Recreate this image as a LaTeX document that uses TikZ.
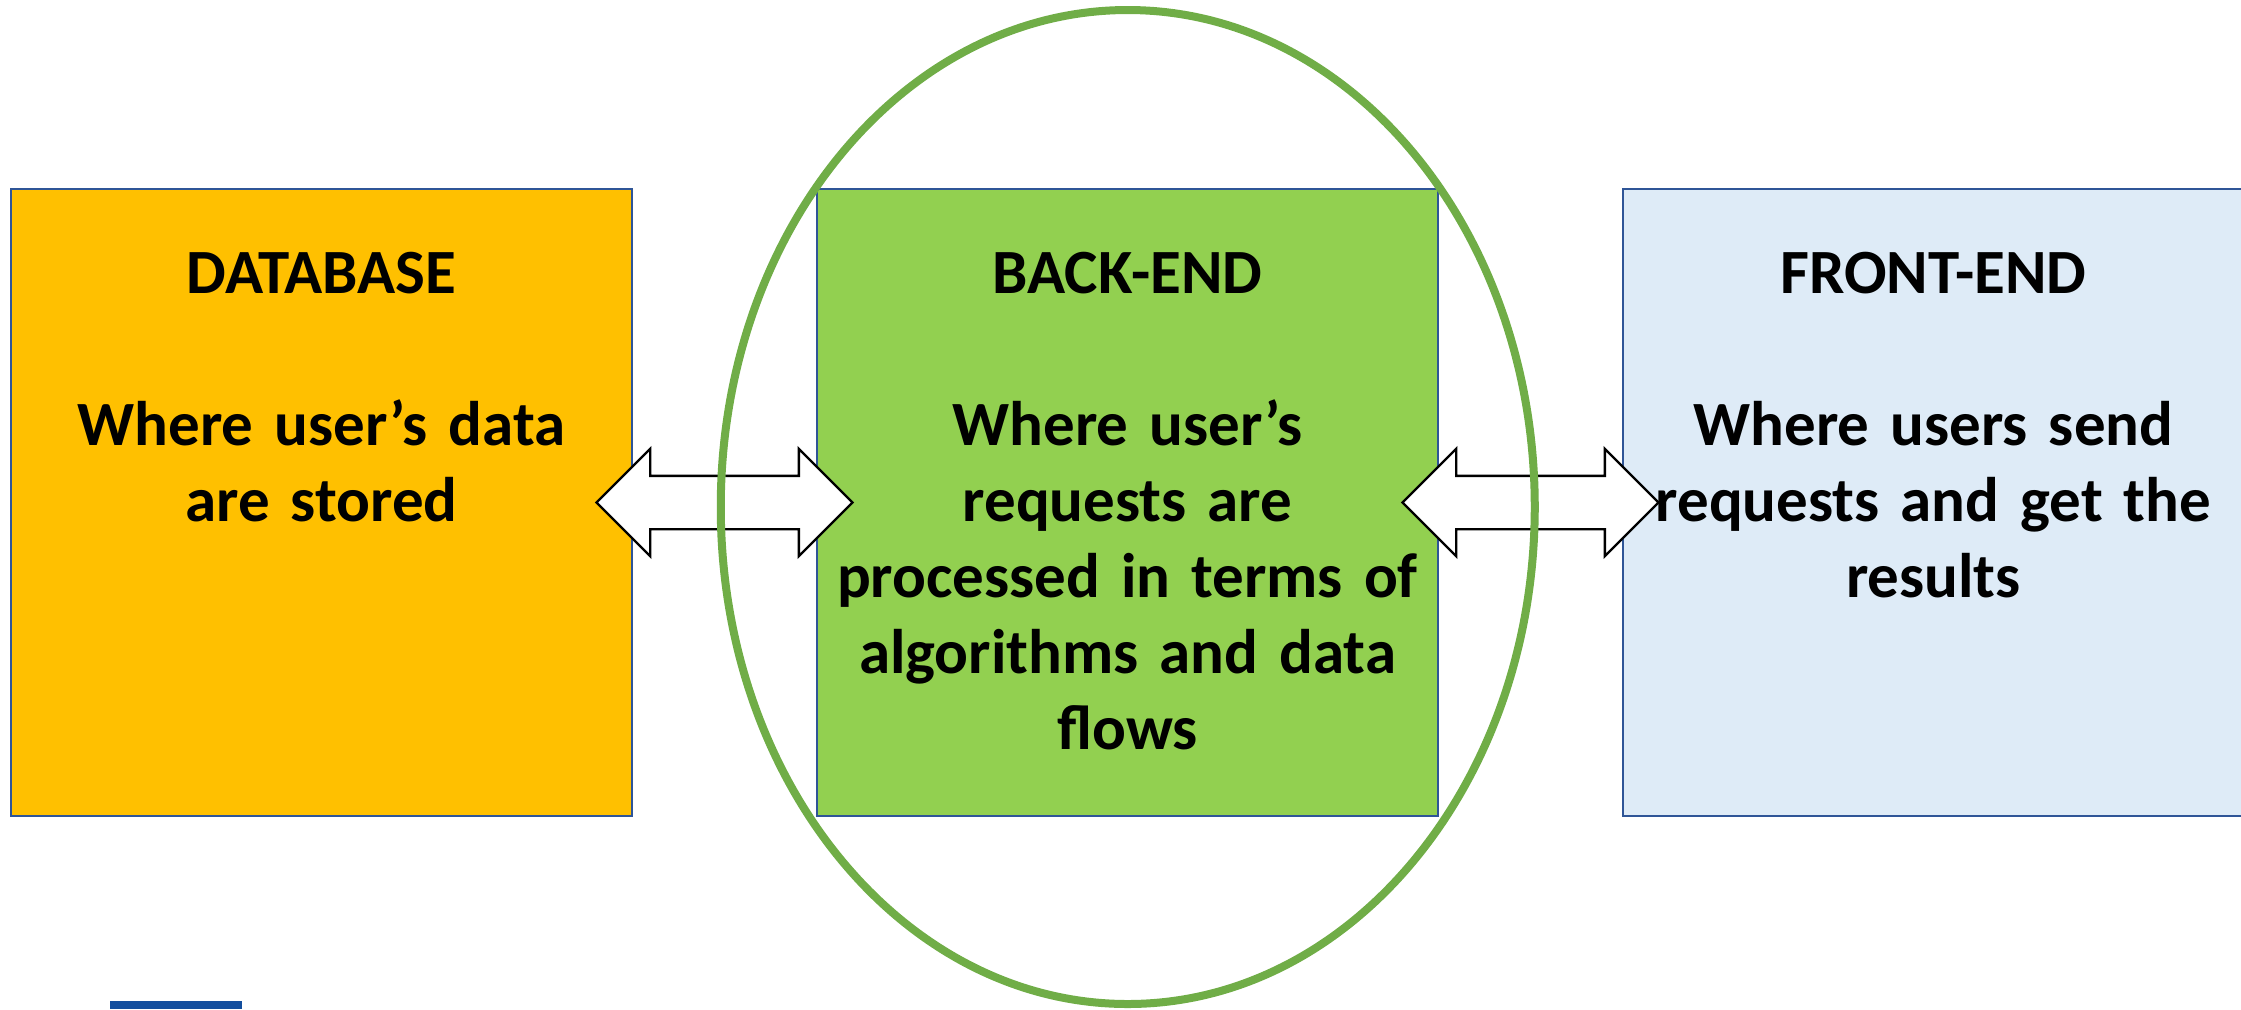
\documentclass[tikz,border=0pt]{standalone}
\usepackage{fontspec}
\setmainfont{Carlito}
\usetikzlibrary{shapes.arrows,calc}

\definecolor{dbfill}{RGB}{255,192,0}
\definecolor{befill}{RGB}{146,208,80}
\definecolor{fefill}{RGB}{222,235,247}
\definecolor{boxline}{RGB}{47,85,151}
\definecolor{ringgreen}{RGB}{112,173,71}
\definecolor{barblue}{RGB}{19,78,158}

\begin{document}
\begin{tikzpicture}[x=0.5pt,y=0.5pt,yscale=-1,xscale=1,
	box/.style={draw=boxline, line width=1pt, minimum width=310.5pt, minimum height=313.5pt, inner sep=0pt},
	boxtext/.style={anchor=base, align=center, text width=300pt, inner sep=0pt, font=\bfseries\fontsize{31.5}{38}\selectfont},
	darrow/.style={double arrow, draw=black, fill=white, line width=1.2pt, minimum height=128pt, inner xsep=0pt, inner ysep=12.75pt, double arrow head extend=13.5pt, double arrow tip angle=90}]
	\useasboundingbox (0,0) rectangle (2241,1009);

	%Shape: Rectangle [database]
	\node [box, fill=dbfill] (db) at (321.5,502.5) {};
	%Shape: Rectangle [back-end]
	\node [box, fill=befill] (be) at (1127.5,502.5) {};
	%Shape: Rectangle [front-end]
	\node [box, fill=fefill] (fe) at (1933.5,502.5) {};

	% Text Node
	\node [boxtext] (dbtext) at (321.5,293) {DATABASE\\[38pt]Where user’s data\\are stored};
	% Text Node
	\node [boxtext] (betext) at (1127.5,293) {BACK-END\\[38pt]Where user’s\\requests are\\processed in terms of\\algorithms and data\\flows};
	% Text Node
	\node [boxtext] (fetext) at (1933.5,293) {FRONT-END\\[38pt]Where users send\\requests and get the\\results};

	%Double Arrows
	\node [darrow] (dbbe) at ($(db.east)!0.5!(be.west)$) {};
	\node [darrow] (befe) at ($(be.east)!0.5!(fe.west)$) {};

	%Shape: Ellipse
	\draw [ringgreen, line width=4pt] (1127.75,507) ellipse [x radius=407, y radius=497];

	%Shape: Rectangle [bar]
	\fill [barblue] (110,1001) rectangle (242,1009);
\end{tikzpicture}
\end{document}
